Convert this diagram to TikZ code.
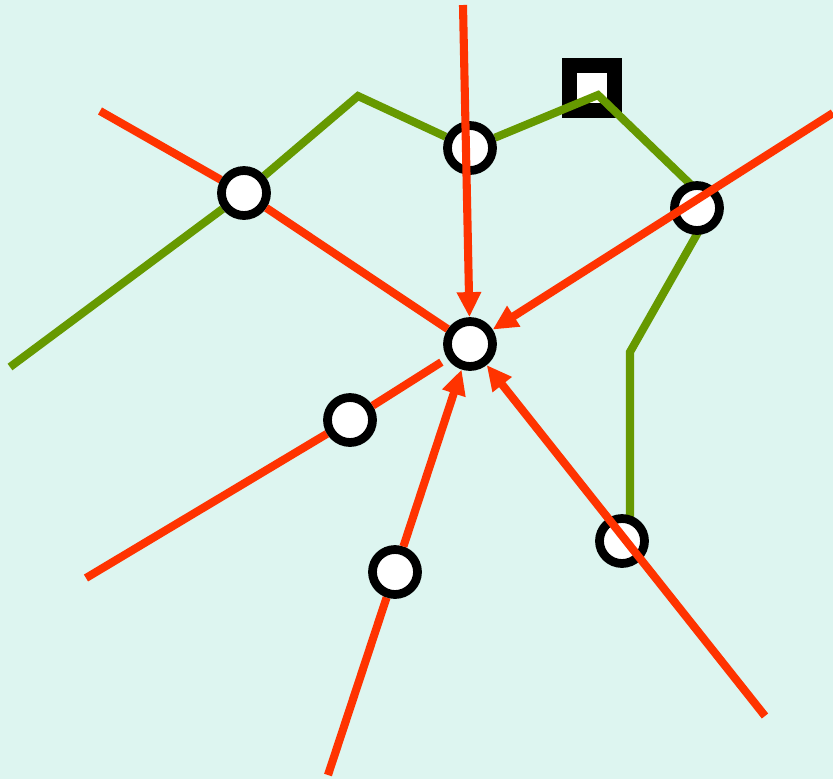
\documentclass[tikz,border=0pt]{standalone}
\usepackage{tikz}
\usetikzlibrary{arrows.meta}
\definecolor{mapBg}{RGB}{221, 245, 240}
\definecolor{mapRed}{RGB}{255, 51, 0}
\definecolor{mapGreen}{RGB}{102, 153, 0}
\pgfdeclarelayer{bg}
\pgfsetlayers{bg,main}
\tikzset{
  stopnode/.style={circle, draw=black, line width=5pt, fill=white, minimum size=0.9cm, inner sep=0pt},
  depot/.style={rectangle, draw=black, line width=9pt, fill=white, minimum size=0.9cm, inner sep=0pt},
  greenline/.style={mapGreen, line width=4.6pt},
  redline/.style={mapRed, line width=4.6pt},
  redarrow/.style={-{Triangle[length=0.5cm, width=0.46cm]}, mapRed, line width=4.6pt},
}

\begin{document}
\begin{tikzpicture}[x=0.02cm, y=-0.02cm]
  \useasboundingbox (0,0) rectangle (833,779);

  % Stations
  \node[stopnode] (A) at (244,193) {};
  \node[stopnode] (B) at (470,148) {};
  \node[stopnode] (C) at (697,208) {};
  \node[stopnode] (D) at (470,344) {};
  \node[stopnode] (E) at (350,420) {};
  \node[stopnode] (F) at (395,572) {};
  \node[stopnode] (G) at (622,541) {};

  % Loose ends and bends
  \coordinate (g0) at (10,367);
  \coordinate (g1) at (358,96);
  \coordinate (g2) at (598,95);
  \coordinate (gc) at (713,206);
  \coordinate (g3) at (630,352);
  \coordinate (g4) at (630,535);
  \coordinate (r1) at (463,5);
  \coordinate (r2) at (100,111);
  \coordinate (r3) at (833,113);
  \coordinate (r4) at (86,578);
  \coordinate (r5) at (328,775);
  \coordinate (r6) at (765,716);

  \begin{pgfonlayer}{bg}
    \fill[mapBg] (0,0) rectangle (833,779);
    \node[depot] (S) at (592,88) {};
    % Green line
    \draw[greenline] (g0) -- (A) -- (g1) -- (B) -- (g2) -- (gc) -- (g3) -- (g4);
    % Red lines under the stations
    \draw[redline] (r2) -- (A);
    \draw[redline] (r4) -- (E);
    \draw[redline] (r5) -- (F);
  \end{pgfonlayer}

  % Red lines into D
  \draw[redline] (A) -- (D);
  \draw[redline, shorten >=4pt] (E) -- (D);
  \draw[redarrow] (F) -- (D);
  \draw[redarrow] (r1) -- (D);
  \draw[redarrow] (r3) -- (D);
  \draw[redarrow] (r6) -- (D);
\end{tikzpicture}
\end{document}
